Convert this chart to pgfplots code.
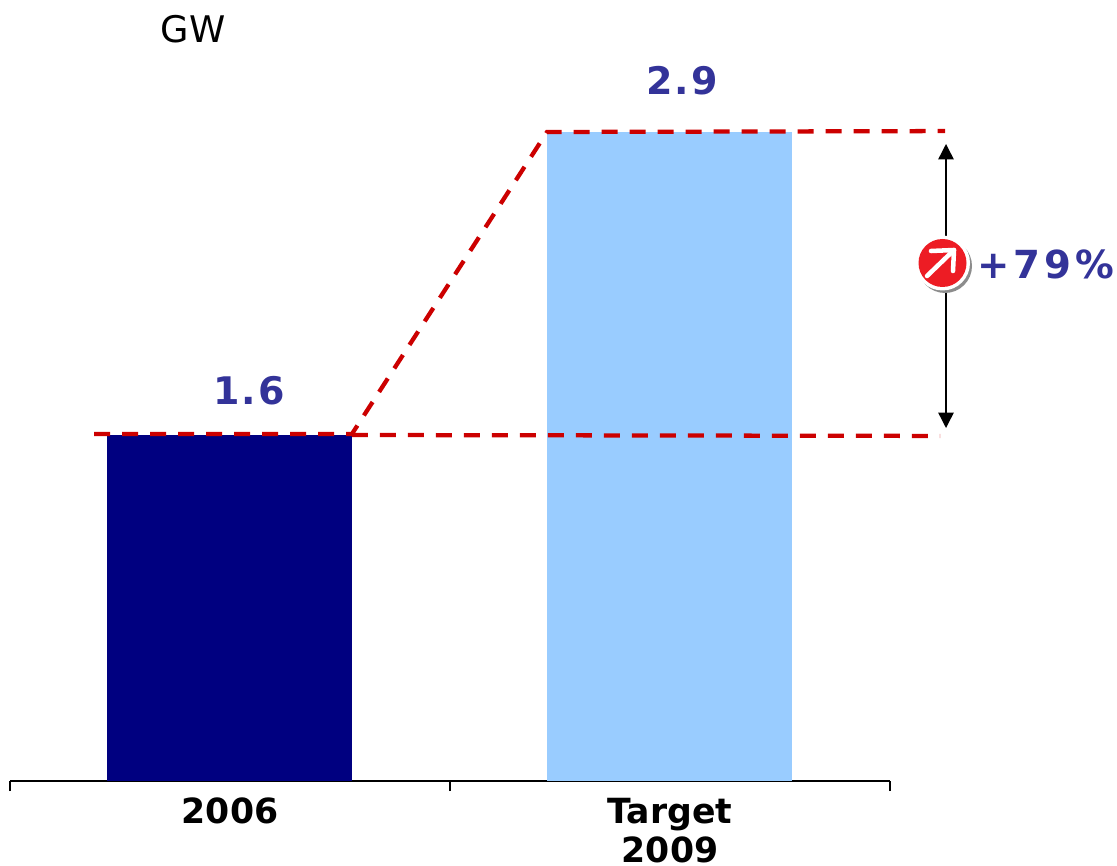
\documentclass[border=0pt]{standalone}
\usepackage{pgfplots}
\pgfplotsset{compat=1.18}
\usepackage{fontspec}
\setmainfont{DejaVu Sans}
\usetikzlibrary{arrows.meta}
\definecolor{navybar}{HTML}{000080}
\definecolor{skybar}{HTML}{99CCFF}
\definecolor{guide}{HTML}{CC0000}
\definecolor{callout}{HTML}{333399}
\definecolor{badge}{HTML}{ED1C24}
\begin{document}
\begin{tikzpicture}[x=0.75pt,y=-0.75pt]
  \begin{axis}[
    at={(7.5pt,-585.75pt)}, anchor=south west,
    scale only axis, width=660pt, height=486.75pt,
    xmin=-0.5, xmax=1.5, ymin=0.1155, ymax=2.9,
    axis y line=none, axis x line=bottom,
    x axis line style={-, black, line width=1.1pt},
    clip=false,
    ybar, bar width=183.75pt,
    xtick={0,1},
    xticklabels={2006,{Target\\2009}},
    xticklabel style={align=center, inner ysep=0pt, font=\bfseries\fontsize{26}{29.5}\selectfont, yshift=-12.5pt},
    major tick length=0pt,
    extra x ticks={-0.5,0.5,1.5},
    extra x tick labels={},
    extra x tick style={major tick length=7.5pt, tick style={black, line width=0.8pt}, tickwidth=7.5pt},
    tick align=outside,
    every tick/.style={black, line width=0.8pt},
  ]
    \addplot[fill=navybar, draw=none, bar shift=-0.75pt] coordinates {(0,1.6)};
    \addplot[fill=skybar, draw=none, bar shift=-0.75pt] coordinates {(1,2.9)};
    % dashed guides between the two levels
    \addplot[sharp plot, guide, line width=3.2pt, dash pattern=on 12pt off 9pt, no marks]
      coordinates {(-0.309,1.604) (0.277,1.604) (0.7205,2.9) (1.625,2.904)};
    \addplot[sharp plot, guide, line width=3.2pt, dash pattern=on 12pt off 9pt, no marks]
      coordinates {(0.277,1.6) (1.614,1.596)};
  \end{axis}
  % values and unit
  \node[font=\fontsize{27.5}{27.5}\selectfont] at (193,29) {GW};
  \node[text=callout, font=\bfseries\fontsize{28.5}{28.5}\selectfont\addfontfeatures{LetterSpace=5}] at (249,391) {1.6};
  \node[text=callout, font=\bfseries\fontsize{28.5}{28.5}\selectfont\addfontfeatures{LetterSpace=5}] at (682,81) {2.9};
  % growth arrow with badge
  \draw[{Triangle[length=11.5pt,width=11.5pt]}-{Triangle[length=11.5pt,width=11.5pt]}, line width=1.1pt]
    (946,144) -- (946,428);
  \fill[black!45] (945,266) circle[radius=27*0.75pt];
  \fill[white] (942.5,263) circle[radius=27.5*0.75pt];
  \fill[badge] (942.5,263) circle[radius=24*0.75pt];
  \draw[white, line width=3.4pt, line cap=round] (927,276) -- (954,250);
  \draw[white, line width=3.4pt, line cap=round, line join=round] (931,251) -- (954,250) -- (953,271);
  \node[text=callout, font=\bfseries\fontsize{29}{29}\selectfont\addfontfeatures{LetterSpace=10}] at (1046,264) {+79\%};
  % page frame
  \pgfresetboundingbox
  \path[use as bounding box] (0,0) rectangle (1117,866);
\end{tikzpicture}
\end{document}
